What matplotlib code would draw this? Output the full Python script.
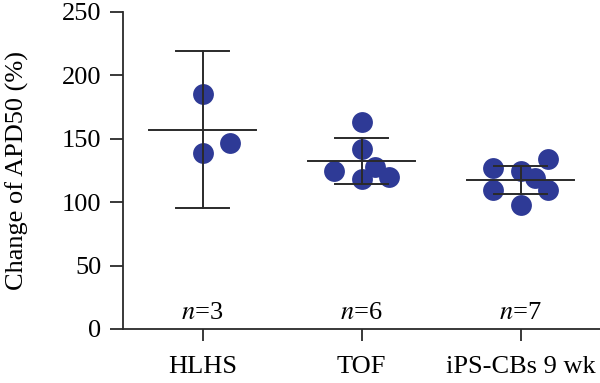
import matplotlib
matplotlib.use("Agg")
import matplotlib.pyplot as plt
import numpy as np

categories = ["HLHS", "TOF", "iPS-CBs 9 wk"]
values = [
    [185, 139, 147],
    [163.5, 141.7, 124.8, 128, 118, 119.6],
    [127.2, 109.6, 124.8, 133.8, 119.3, 109.6, 97.8],
]
offsets = [
    [0, 0, 0.17],
    [0, 0, -0.17, 0.088, 0, 0.17],
    [-0.17, -0.17, 0, 0.17, 0.09, 0.17, 0],
]
means = [157, 132.6, 117.4]
sds = [62, 18, 11.3]
n_labels = ["3", "6", "7"]
yticks = [0, 50, 100, 150, 200, 250]

plt.rcParams['font.family'] = ['Liberation Serif', 'DejaVu Serif']

fig = plt.figure(figsize=(6.0, 3.83), dpi=100)
ax = fig.add_axes([0.205, 0.141, 0.795, 0.828])

dot = "#2E3A96"
line = "#2a2a2a"
for i, (vals, offs) in enumerate(zip(values, offsets)):
    xs = np.array(offs) + i
    ax.plot(xs, vals, 'o', color=dot, markersize=15, markeredgewidth=0, zorder=2)
    m, s = means[i], sds[i]
    ax.plot([i - 0.335, i + 0.335], [m, m], color=line, lw=1.4, zorder=3)
    ax.plot([i, i], [m - s, m + s], color=line, lw=1.4, zorder=3)
    ax.plot([i - 0.168, i + 0.168], [m + s, m + s], color=line, lw=1.4, zorder=3)
    ax.plot([i - 0.168, i + 0.168], [m - s, m - s], color=line, lw=1.4, zorder=3)
    ax.text(i, 13, "$n$=" + n_labels[i], ha='center', va='center', fontsize=19,
            math_fontfamily='stix')

ax.set_xlim(-0.5, 2.5)
ax.set_ylim(0, 250)
ax.set_yticks(yticks)
ax.set_xticks(range(len(categories)))
ax.set_xticklabels(categories)
ax.spines['top'].set_visible(False)
ax.spines['right'].set_visible(False)
for sp in ['left', 'bottom']:
    ax.spines[sp].set_linewidth(1.3)
    ax.spines[sp].set_color(line)
ax.tick_params(axis='y', length=9.5, width=1.3, color=line, labelsize=19, pad=6)
ax.tick_params(axis='x', length=8.5, width=1.3, color=line, labelsize=19, pad=11)
fig.text(17 / 600, 1 - 171 / 383, "Change of APD50 (%)", rotation=90,
         ha='center', va='center', fontsize=19)

fig.savefig("out.png", dpi=100)
